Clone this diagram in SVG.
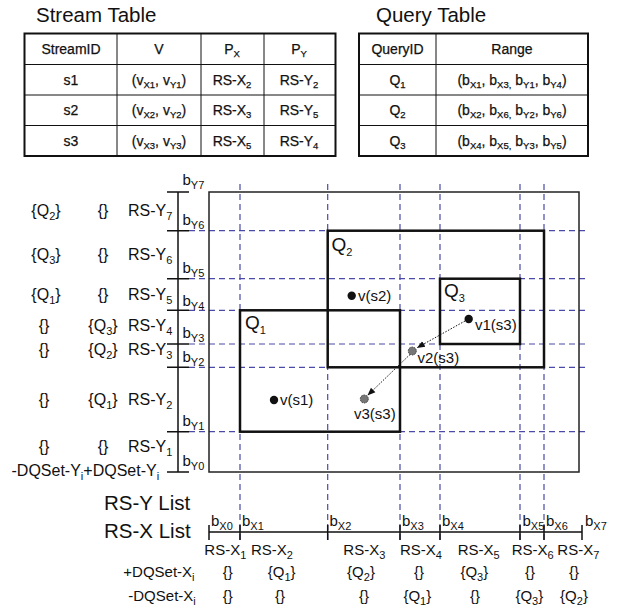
<svg xmlns="http://www.w3.org/2000/svg" width="626" height="612" viewBox="0 0 626 612">
<defs>
<style>
text{font-family:"Liberation Sans",Arial,sans-serif;fill:#111}
.t{font-size:14px;text-anchor:middle;stroke:#111;stroke-width:0.25}
.ts{font-size:9.5px}
.title{font-size:20.5px}
.ry{font-size:16px}
.s11{font-size:11px}
.b{font-size:15px}
.q{font-size:19px}
.v{font-size:15px}
.rx{font-size:15px}
.m{text-anchor:middle}
.thick{fill:none;stroke:#111;stroke-width:2}
.thin{fill:none;stroke:#111;stroke-width:1}
.dash{fill:none;stroke:#4a4aa8;stroke-width:1.2;stroke-dasharray:6 4}
.ax{fill:none;stroke:#111;stroke-width:1.5}
.qr{fill:none;stroke:#111;stroke-width:2.5}
.arr{fill:none;stroke:#111;stroke-width:1;stroke-dasharray:1.5 1.5}
</style>
<marker id="ah" viewBox="0 0 10 10" refX="9" refY="5" markerWidth="8" markerHeight="8" orient="auto" markerUnits="userSpaceOnUse">
<path d="M0,1 L10,5 L0,9 z" fill="#111"/>
</marker>
</defs>
<rect width="626" height="612" fill="#fff"/>

<g id="stream-table">
<text class="title" x="36" y="22">Stream Table</text>
<rect class="thick" x="24.5" y="33.5" width="311" height="122.5"/>
<path class="thin" d="M117,33.5V156 M201,33.5V156 M264,33.5V156 M24.5,64.5H335.5 M24.5,95H335.5 M24.5,125.5H335.5"/>
<text class="t" x="71" y="54">StreamID</text>
<text class="t" x="159" y="54">V</text>
<text class="t" x="232" y="54">P<tspan class="ts" dy="3">X</tspan></text>
<text class="t" x="299" y="54">P<tspan class="ts" dy="3">Y</tspan></text>
<text class="t" x="71" y="84.5">s1</text>
<text class="t" x="159" y="84.5">(v<tspan class="ts" dy="3">X1</tspan><tspan dy="-3">, v</tspan><tspan class="ts" dy="3">Y1</tspan><tspan dy="-3">)</tspan></text>
<text class="t" x="232" y="84.5">RS-X<tspan class="ts" dy="3">2</tspan></text>
<text class="t" x="299" y="84.5">RS-Y<tspan class="ts" dy="3">2</tspan></text>
<text class="t" x="71" y="115">s2</text>
<text class="t" x="159" y="115">(v<tspan class="ts" dy="3">X2</tspan><tspan dy="-3">, v</tspan><tspan class="ts" dy="3">Y2</tspan><tspan dy="-3">)</tspan></text>
<text class="t" x="232" y="115">RS-X<tspan class="ts" dy="3">3</tspan></text>
<text class="t" x="299" y="115">RS-Y<tspan class="ts" dy="3">5</tspan></text>
<text class="t" x="71" y="145.5">s3</text>
<text class="t" x="159" y="145.5">(v<tspan class="ts" dy="3">X3</tspan><tspan dy="-3">, v</tspan><tspan class="ts" dy="3">Y3</tspan><tspan dy="-3">)</tspan></text>
<text class="t" x="232" y="145.5">RS-X<tspan class="ts" dy="3">5</tspan></text>
<text class="t" x="299" y="145.5">RS-Y<tspan class="ts" dy="3">4</tspan></text>
</g>

<g id="query-table">
<text class="title" x="376" y="22">Query Table</text>
<rect class="thick" x="359" y="33.5" width="229" height="122.5"/>
<path class="thin" d="M436,33.5V156 M359,64.5H588 M359,95H588 M359,125.5H588"/>
<text class="t" x="397.5" y="54">QueryID</text>
<text class="t" x="512" y="54">Range</text>
<text class="t" x="397.5" y="84.5">Q<tspan class="ts" dy="3">1</tspan></text>
<text class="t" x="512" y="84.5">(b<tspan class="ts" dy="3">X1</tspan><tspan dy="-3">, b</tspan><tspan class="ts" dy="3">X3,</tspan><tspan dy="-3"> b</tspan><tspan class="ts" dy="3">Y1</tspan><tspan dy="-3">, b</tspan><tspan class="ts" dy="3">Y4</tspan><tspan dy="-3">)</tspan></text>
<text class="t" x="397.5" y="115">Q<tspan class="ts" dy="3">2</tspan></text>
<text class="t" x="512" y="115">(b<tspan class="ts" dy="3">X2</tspan><tspan dy="-3">, b</tspan><tspan class="ts" dy="3">X6,</tspan><tspan dy="-3"> b</tspan><tspan class="ts" dy="3">Y2</tspan><tspan dy="-3">, b</tspan><tspan class="ts" dy="3">Y6</tspan><tspan dy="-3">)</tspan></text>
<text class="t" x="397.5" y="145.5">Q<tspan class="ts" dy="3">3</tspan></text>
<text class="t" x="512" y="145.5">(b<tspan class="ts" dy="3">X4</tspan><tspan dy="-3">, b</tspan><tspan class="ts" dy="3">X5,</tspan><tspan dy="-3"> b</tspan><tspan class="ts" dy="3">Y3</tspan><tspan dy="-3">, b</tspan><tspan class="ts" dy="3">Y5</tspan><tspan dy="-3">)</tspan></text>
</g>

<g id="grid">
<path class="dash" d="M189,230.7H587 M189,278.7H587 M189,310.3H587 M189,344H587 M189,367.3H587 M189,431.7H587"/>
<path class="dash" d="M240,184V543 M327.7,184V543 M400,184V543 M440,184V543 M520,184V543 M544,184V543"/>
<rect x="209" y="192" width="370" height="280" fill="none" stroke="#222" stroke-width="1.5"/>
</g>

<g id="y-axis">
<path class="ax" d="M178,192V472 M167,192H189 M167,230.7H189 M167,278.7H189 M167,310.3H189 M167,344H189 M167,367.3H189 M167,431.7H189 M167,472H189"/>
<text class="b" x="182.5" y="185">b<tspan class="s11" dy="4">Y7</tspan></text>
<text class="b" x="182.5" y="225">b<tspan class="s11" dy="4">Y6</tspan></text>
<text class="b" x="182.5" y="272.5">b<tspan class="s11" dy="4">Y5</tspan></text>
<text class="b" x="182.5" y="306">b<tspan class="s11" dy="4">Y4</tspan></text>
<text class="b" x="182.5" y="338">b<tspan class="s11" dy="4">Y3</tspan></text>
<text class="b" x="182.5" y="361.5">b<tspan class="s11" dy="4">Y2</tspan></text>
<text class="b" x="182.5" y="425.5">b<tspan class="s11" dy="4">Y1</tspan></text>
<text class="b" x="182.5" y="465.5">b<tspan class="s11" dy="4">Y0</tspan></text>
</g>

<g id="y-labels">
<text class="ry m" x="46" y="216">{Q<tspan class="s11" dy="4">2</tspan><tspan dy="-4">}</tspan></text>
<text class="ry m" x="103" y="216">{}</text>
<text class="ry" x="128" y="216">RS-Y<tspan class="s11" dy="4">7</tspan></text>
<text class="ry m" x="46" y="259.5">{Q<tspan class="s11" dy="4">3</tspan><tspan dy="-4">}</tspan></text>
<text class="ry m" x="103" y="259.5">{}</text>
<text class="ry" x="128" y="259.5">RS-Y<tspan class="s11" dy="4">6</tspan></text>
<text class="ry m" x="46" y="300">{Q<tspan class="s11" dy="4">1</tspan><tspan dy="-4">}</tspan></text>
<text class="ry m" x="103" y="300">{}</text>
<text class="ry" x="128" y="300">RS-Y<tspan class="s11" dy="4">5</tspan></text>
<text class="ry m" x="44" y="330.5">{}</text>
<text class="ry m" x="103" y="330.5">{Q<tspan class="s11" dy="4">3</tspan><tspan dy="-4">}</tspan></text>
<text class="ry" x="128" y="330.5">RS-Y<tspan class="s11" dy="4">4</tspan></text>
<text class="ry m" x="44" y="355">{}</text>
<text class="ry m" x="103" y="355">{Q<tspan class="s11" dy="4">2</tspan><tspan dy="-4">}</tspan></text>
<text class="ry" x="128" y="355">RS-Y<tspan class="s11" dy="4">3</tspan></text>
<text class="ry m" x="44" y="405">{}</text>
<text class="ry m" x="103" y="405">{Q<tspan class="s11" dy="4">1</tspan><tspan dy="-4">}</tspan></text>
<text class="ry" x="128" y="405">RS-Y<tspan class="s11" dy="4">2</tspan></text>
<text class="ry m" x="44" y="451.5">{}</text>
<text class="ry m" x="103" y="451.5">{}</text>
<text class="ry" x="128" y="451.5">RS-Y<tspan class="s11" dy="4">1</tspan></text>
<text class="ry" x="11.5" y="476">-DQSet-Y<tspan class="s11" dy="4">i</tspan><tspan dy="-4">+DQSet-Y</tspan><tspan class="s11" dy="4">i</tspan></text>
</g>

<g id="Q1">
<rect class="qr" x="240" y="310.3" width="160" height="121.4"/>
<text class="q" x="245" y="329">Q<tspan class="s11" dy="5">1</tspan></text>
</g>
<g id="Q2">
<rect class="qr" x="327.7" y="230.7" width="216.3" height="136.6"/>
<text class="q" x="331.5" y="250.5">Q<tspan class="s11" dy="5">2</tspan></text>
</g>
<g id="Q3">
<rect class="qr" x="440" y="278.7" width="80" height="65.3"/>
<text class="q" x="444" y="296.5">Q<tspan class="s11" dy="5">3</tspan></text>
</g>

<g id="v-s1">
<circle cx="274" cy="400" r="4.2" fill="#111"/>
<text class="v" x="280" y="405">v(s1)</text>
</g>
<g id="v-s2">
<circle cx="351.7" cy="295.7" r="4.2" fill="#111"/>
<text class="v" x="358" y="300.5">v(s2)</text>
</g>
<g id="v1-s3">
<circle cx="468.7" cy="319" r="4.2" fill="#111"/>
<text class="v" x="475" y="330">v1(s3)</text>
</g>
<g id="v2-s3">
<circle cx="412.3" cy="351" r="4" fill="#777" stroke="#444" stroke-width="1" stroke-dasharray="1.5 1"/>
<text class="v" x="417.5" y="362.5">v2(s3)</text>
</g>
<g id="v3-s3">
<circle cx="364.3" cy="399" r="4" fill="#777" stroke="#444" stroke-width="1" stroke-dasharray="1.5 1"/>
<text class="v" x="354" y="418.5">v3(s3)</text>
</g>

<g id="connectors">
<path class="arr" d="M465,321 L417.5,347.5" marker-end="url(#ah)"/>
<path class="arr" d="M410,354.5 L368,395" marker-end="url(#ah)"/>
</g>

<g id="x-axis">
<text class="title" x="104" y="510">RS-Y List</text>
<text class="title" x="104" y="538">RS-X List</text>
<path class="ax" d="M209,532H582 M209,525V540 M240,525V540 M327.7,525V540 M400,525V540 M440,525V540 M520,525V540 M544,525V540 M582,525V540"/>
<text class="b" x="211" y="526">b<tspan class="s11" dy="4">X0</tspan></text>
<text class="b" x="242" y="526">b<tspan class="s11" dy="4">X1</tspan></text>
<text class="b" x="329.5" y="526">b<tspan class="s11" dy="4">X2</tspan></text>
<text class="b" x="402" y="526">b<tspan class="s11" dy="4">X3</tspan></text>
<text class="b" x="442" y="526">b<tspan class="s11" dy="4">X4</tspan></text>
<text class="b" x="522.5" y="526">b<tspan class="s11" dy="4">X5</tspan></text>
<text class="b" x="546" y="526">b<tspan class="s11" dy="4">X6</tspan></text>
<text class="b" x="585" y="526">b<tspan class="s11" dy="4">X7</tspan></text>
</g>

<g id="x-labels">
<text class="rx" x="204.3" y="555">RS-X<tspan class="s11" dy="4">1</tspan></text>
<text class="rx" x="251" y="555">RS-X<tspan class="s11" dy="4">2</tspan></text>
<text class="rx" x="343.3" y="555">RS-X<tspan class="s11" dy="4">3</tspan></text>
<text class="rx" x="400" y="555">RS-X<tspan class="s11" dy="4">4</tspan></text>
<text class="rx" x="457.7" y="555">RS-X<tspan class="s11" dy="4">5</tspan></text>
<text class="rx" x="511.7" y="555">RS-X<tspan class="s11" dy="4">6</tspan></text>
<text class="rx" x="557.3" y="555">RS-X<tspan class="s11" dy="4">7</tspan></text>
<text class="rx" x="123.3" y="577">+DQSet-X<tspan class="s11" dy="4">i</tspan></text>
<text class="rx" x="128.3" y="601">-DQSet-X<tspan class="s11" dy="4">i</tspan></text>
<text class="rx m" x="227.7" y="577">{}</text>
<text class="rx m" x="281.7" y="577">{Q<tspan class="s11" dy="4">1</tspan><tspan dy="-4">}</tspan></text>
<text class="rx m" x="361" y="577">{Q<tspan class="s11" dy="4">2</tspan><tspan dy="-4">}</tspan></text>
<text class="rx m" x="419" y="577">{}</text>
<text class="rx m" x="474.3" y="577">{Q<tspan class="s11" dy="4">3</tspan><tspan dy="-4">}</tspan></text>
<text class="rx m" x="530" y="577">{}</text>
<text class="rx m" x="574" y="577">{}</text>
<text class="rx m" x="227.7" y="601">{}</text>
<text class="rx m" x="280" y="601">{}</text>
<text class="rx m" x="364" y="601">{}</text>
<text class="rx m" x="417.3" y="601">{Q<tspan class="s11" dy="4">1</tspan><tspan dy="-4">}</tspan></text>
<text class="rx m" x="475" y="601">{}</text>
<text class="rx m" x="529.3" y="601">{Q<tspan class="s11" dy="4">3</tspan><tspan dy="-4">}</tspan></text>
<text class="rx m" x="574" y="601">{Q<tspan class="s11" dy="4">2</tspan><tspan dy="-4">}</tspan></text>
</g>
</svg>
